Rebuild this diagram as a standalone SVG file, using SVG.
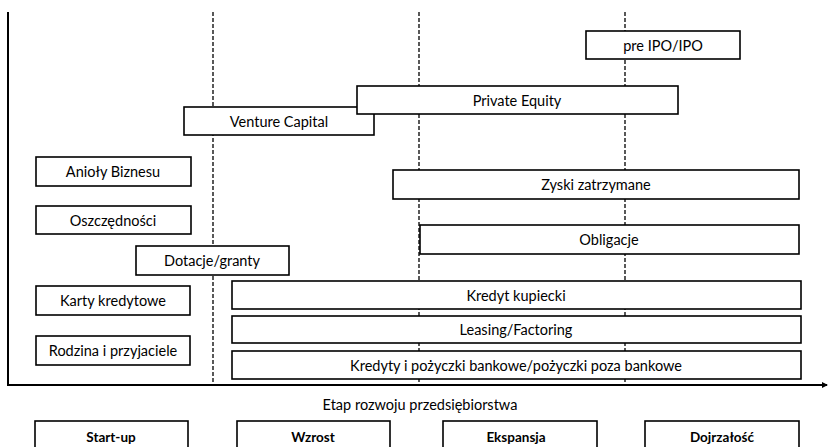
<svg xmlns="http://www.w3.org/2000/svg" width="828" height="447" viewBox="0 0 828 447">
<defs>
<style>
.b{fill:#fff;stroke:#000;stroke-width:1.6}
.t{font-family:Lato,"Liberation Sans",sans-serif;font-size:14.5px;fill:#000;text-anchor:middle;dominant-baseline:central}
.s{font-weight:bold;font-size:13.5px}
.d{stroke:#000;stroke-width:1.3;stroke-dasharray:4 2;fill:none}
.a{stroke:#000;stroke-width:2;fill:none}
</style>
<marker id="ah" markerWidth="6" markerHeight="6" refX="5" refY="3" orient="auto" markerUnits="userSpaceOnUse">
<path d="M0,0 L6,3 L0,6 z" fill="#000"/>
</marker>
</defs>
<rect width="828" height="447" fill="#fff"/>
<g id="connectors">
<line class="d" x1="213" y1="12" x2="213" y2="385"/>
<line class="d" x1="419" y1="12" x2="419" y2="385"/>
<line class="d" x1="625" y1="12" x2="625" y2="385"/>
<line class="a" x1="8" y1="12" x2="8" y2="385"/>
<line class="a" x1="7" y1="385" x2="827" y2="385" marker-end="url(#ah)"/>
</g>
<g id="preipo"><rect class="b" x="586" y="31" width="154" height="28"/><text class="t" x="663" y="45">pre IPO/IPO</text></g>
<g id="vc"><rect class="b" x="184" y="107" width="190" height="28"/><text class="t" x="279" y="121">Venture Capital</text></g>
<g id="pe"><rect class="b" x="357" y="86" width="321" height="28"/><text class="t" x="517" y="100">Private Equity</text></g>
<g id="anioly"><rect class="b" x="36" y="157" width="155" height="29"/><text class="t" x="113" y="171">Anioły Biznesu</text></g>
<g id="zyski"><rect class="b" x="393" y="170" width="406" height="29"/><text class="t" x="596" y="184">Zyski zatrzymane</text></g>
<g id="oszcz"><rect class="b" x="36" y="206" width="155" height="28"/><text class="t" x="113" y="220">Oszczędności</text></g>
<g id="oblig"><rect class="b" x="420" y="225" width="379" height="29"/><text class="t" x="609" y="239">Obligacje</text></g>
<g id="dotacje"><rect class="b" x="136" y="246" width="153" height="29"/><text class="t" x="212" y="260">Dotacje/granty</text></g>
<g id="karty"><rect class="b" x="36" y="286" width="154" height="29"/><text class="t" x="113" y="300">Karty kredytowe</text></g>
<g id="kupiecki"><rect class="b" x="232" y="281" width="569" height="28"/><text class="t" x="516" y="295">Kredyt kupiecki</text></g>
<g id="leasing"><rect class="b" x="232" y="316" width="569" height="27"/><text class="t" x="516" y="329">Leasing/Factoring</text></g>
<g id="rodzina"><rect class="b" x="36" y="336" width="154" height="29"/><text class="t" x="113" y="350">Rodzina i przyjaciele</text></g>
<g id="kredyty"><rect class="b" x="232" y="351" width="569" height="28"/><text class="t" x="516" y="365">Kredyty i pożyczki bankowe/pożyczki poza bankowe</text></g>
<g id="axislabel"><text class="t" x="420" y="404">Etap rozwoju przedsiębiorstwa</text></g>
<g id="startup"><rect class="b" x="35" y="421" width="153" height="32"/><text class="t s" x="111" y="437">Start-up</text></g>
<g id="wzrost"><rect class="b" x="237" y="421" width="153" height="32"/><text class="t s" x="313" y="437">Wzrost</text></g>
<g id="ekspansja"><rect class="b" x="443" y="421" width="154" height="32"/><text class="t s" x="516" y="437">Ekspansja</text></g>
<g id="dojrzalosc"><rect class="b" x="645" y="421" width="154" height="32"/><text class="t s" x="722" y="437">Dojrzałość</text></g>
</svg>
